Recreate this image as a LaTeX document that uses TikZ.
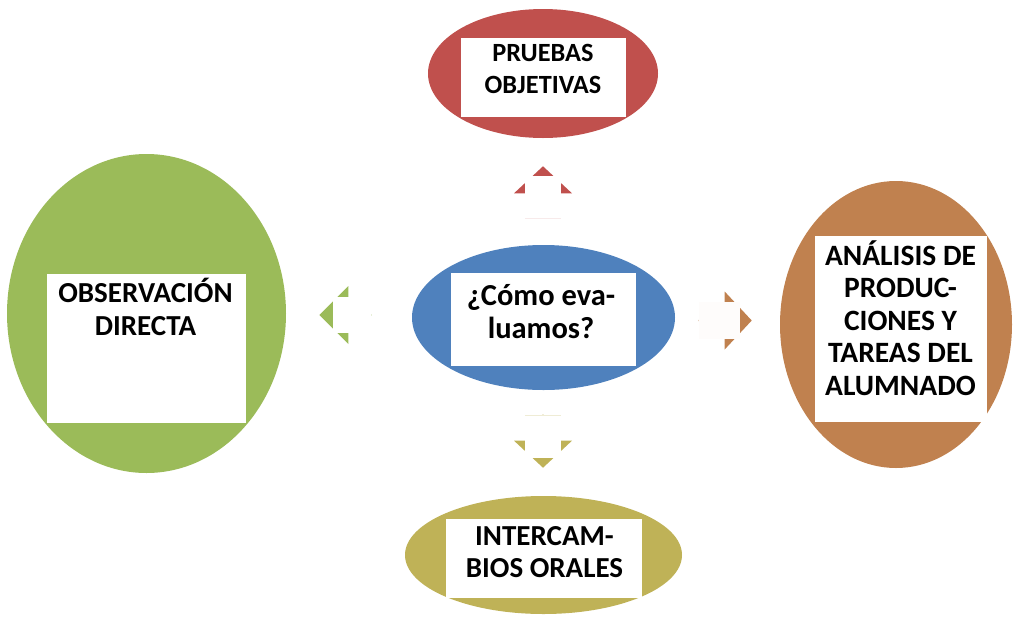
\documentclass[tikz,border=0pt]{standalone}
\usepackage{fontspec}
\setmainfont{Carlito}
\usetikzlibrary{shapes.geometric,shapes.arrows}
\definecolor{rojo}{HTML}{C0504D}
\definecolor{azul}{HTML}{4F81BD}
\definecolor{verde}{HTML}{9BBB59}
\definecolor{naranja}{HTML}{C0814F}
\definecolor{oliva}{HTML}{BFB257}
\tikzset{
  blob/.style={ellipse, inner sep=0pt},
  hoja/.style={rectangle, fill=white, inner sep=0pt},
  rotulo/.style={align=center, inner sep=0pt, font=\bfseries\fontsize{#1}{32.5}\selectfont},
  flecha/.style={single arrow, inner sep=0pt, anchor=tip, minimum width=58pt,
    single arrow head extend=11pt, single arrow tip angle=94}
}
\begin{document}
\begin{tikzpicture}[x=1pt, y=-1pt]
  \useasboundingbox (0,0) rectangle (1013,619);

  % arrows first, then the white covers
  \node[flecha, fill=rojo, minimum height=52pt, shape border rotate=90] (fup) at (543,166) {};
  \node[flecha, fill=verde, minimum height=52pt, shape border rotate=180, single arrow tip angle=90] (fleft) at (319,315) {};
  \node[flecha, fill=naranja, minimum height=53pt, shape border rotate=0] (fright) at (752,320.5) {};
  \node[flecha, fill=oliva, minimum height=53pt, shape border rotate=270] (fdown) at (543,468) {};
  \node[hoja, minimum width=36pt, minimum height=42pt] (cup) at (543,197) {};
  \node[hoja, minimum width=38pt, minimum height=36pt] (cleft) at (352,315) {};
  \node[hoja, fill=white!98!naranja, minimum width=41pt, minimum height=37pt] (cright) at (719.5,320.5) {};
  \node[hoja, minimum width=36pt, minimum height=43pt] (cdown) at (543,436.5) {};
  \draw[rojo!12] (cup.south west) -- (cup.south east);
  \draw[oliva!25] (cdown.north west) -- (cdown.north east);

  % ellipses
  \node[blob, fill=rojo, minimum width=230pt, minimum height=129pt] (pruebas) at (543,73.5) {};
  \node[blob, fill=azul, minimum width=263pt, minimum height=145pt] (como) at (543.5,317.5) {};
  \node[blob, fill=verde, minimum width=279pt, minimum height=319pt] (obs) at (146.5,313.5) {};
  \node[blob, fill=naranja, minimum width=232pt, minimum height=287pt] (anal) at (896,324.5) {};
  \node[blob, fill=oliva, minimum width=277pt, minimum height=118pt] (inter) at (543.5,555) {};

  % white boxes
  \node[hoja, minimum width=165pt, minimum height=79pt] (pruebasbox) at (543.5,77.5) {};
  \node[hoja, minimum width=185pt, minimum height=93pt] (comobox) at (543.5,319.5) {};
  \node[hoja, minimum width=199pt, minimum height=149pt] (obsbox) at (146.5,348.5) {};
  \node[hoja, minimum width=172pt, minimum height=186pt] (analbox) at (901,329) {};
  \node[hoja, minimum width=196pt, minimum height=79pt] (interbox) at (544,558.5) {};

  % texts
  \node[rotulo=26.3] (pruebastxt) at (543,69) {PRUEBAS\\OBJETIVAS};
  \node[rotulo=30.5] (comotxt) at (541,311.5) {¿Cómo eva-\\luamos?};
  \node[rotulo=29] (obstxt) at (145.5,307) {OBSERVACIÓN\\DIRECTA};
  \node[rotulo=29.5] (analtxt) at (900.5,318) {ANÁLISIS DE\\PRODUC-\\CIONES Y\\TAREAS DEL\\ALUMNADO};
  \node[rotulo=29] (intertxt) at (544.5,552) {INTERCAM-\\BIOS ORALES};
\end{tikzpicture}
\end{document}
